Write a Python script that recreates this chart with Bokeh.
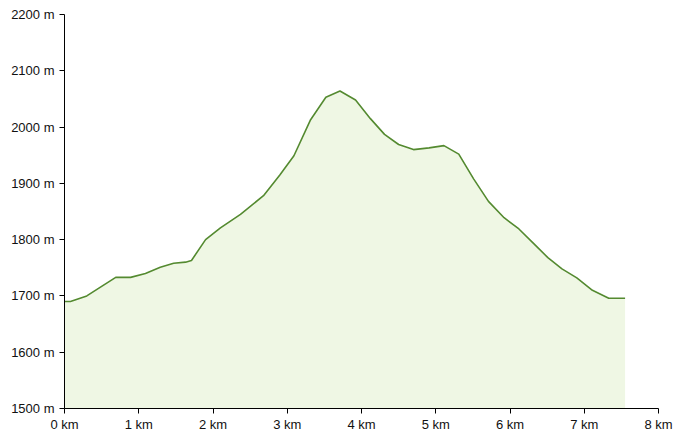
from bokeh.plotting import figure
from bokeh.models import PrintfTickFormatter, FixedTicker, Range1d
from bokeh.embed import file_html
from bokeh.resources import INLINE

# distance (km) and elevation (m)
distance_km = [0.0, 0.08, 0.30, 0.50, 0.69, 0.89, 1.09, 1.29, 1.47, 1.63, 1.71, 1.90, 2.10,
               2.37, 2.68, 2.90, 3.09, 3.31, 3.52, 3.71, 3.92, 4.12, 4.31, 4.50, 4.70,
               4.91, 5.11, 5.31, 5.51, 5.71, 5.92, 6.12, 6.32, 6.51, 6.70, 6.90, 7.11,
               7.33, 7.55]
elevation_m = [1690, 1690, 1700, 1717, 1733, 1733, 1740, 1751, 1758, 1760, 1763, 1800, 1821,
               1845, 1878, 1915, 1949, 2012, 2053, 2064, 2048, 2015, 1987, 1969, 1960,
               1963, 1967, 1952, 1908, 1868, 1839, 1819, 1793, 1768, 1748, 1732, 1710,
               1696, 1696]
x_ticks = [0, 1, 2, 3, 4, 5, 6, 7, 8]
y_ticks = [1500, 1600, 1700, 1800, 1900, 2000, 2100, 2200]

p = figure(width=680, height=436, output_backend="svg", toolbar_location=None,
           x_range=Range1d(0, 8), y_range=Range1d(1500, 2200))
p.min_border_left = 64
p.min_border_right = 22
p.min_border_top = 14
p.min_border_bottom = 28
p.outline_line_color = None
p.xgrid.grid_line_color = None
p.ygrid.grid_line_color = None
p.background_fill_color = "white"
p.border_fill_color = "white"

p.varea(x=distance_km, y1=[1500] * len(distance_km), y2=elevation_m,
        fill_color="#eff7e4", fill_alpha=1.0)
p.line(x=distance_km, y=elevation_m, line_color="#548a30", line_width=1.6)

for ax in (p.xaxis[0], p.yaxis[0]):
    ax.axis_line_color = "black"
    ax.axis_line_width = 1
    ax.major_tick_line_color = "black"
    ax.major_tick_out = 5
    ax.major_tick_in = 0
    ax.minor_tick_line_color = None
    ax.major_label_text_font = "Liberation Sans"
    ax.major_label_text_font_size = "13px"
    ax.major_label_text_color = "#111111"

p.xaxis[0].ticker = FixedTicker(ticks=x_ticks)
p.yaxis[0].ticker = FixedTicker(ticks=y_ticks)
p.xaxis[0].formatter = PrintfTickFormatter(format="%d km")
p.yaxis[0].formatter = PrintfTickFormatter(format="%d m")
p.xaxis[0].major_label_standoff = 3
p.yaxis[0].major_label_standoff = 5

open("out.html", "w").write(file_html(p, INLINE))
